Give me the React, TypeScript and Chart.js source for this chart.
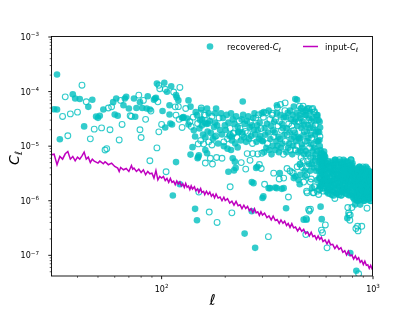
import React, { useEffect, useRef } from "react";
import { Chart, registerables } from "chart.js";

Chart.register(...registerables);

// ---------------- data ----------------
// recovered C_ell: positive values drawn filled, negative values drawn open (|C_ell|)
const lowEll = [31,32,32,33,34,35,36,37,38,39,40,41,42,43,44,45,46,47,48,49,50,51,52,53,54,55,56,57,58,59,60,61,62,63,64,65,66,67,68,70,71,72,74,75,76,78,79,79,80,81,82,84,85,86,88,88,89,92,93,94,95,95,96,97,98];
const lowCl = [4.75e-5,4.7e-5,2.05e-4,1.34e-5,-3.5e-5,-8.0e-5,-1.55e-5,-3.9e-5,8.9e-5,7.45e-5,-4.2e-5,7.3e-5,-1.31e-4,2.3e-5,-6.5e-5,5.25e-5,-1.36e-5,7.1e-5,-2.05e-5,3.5e-5,3.3e-5,3.6e-5,-2.16e-5,4.7e-5,-8.5e-6,-9.0e-6,-5.0e-5,-2.0e-5,-5.25e-5,6.4e-5,3.8e-5,7.45e-5,3.6e-5,-1.3e-5,-6.9e-5,-2.5e-5,5.6e-5,7.45e-5,8.0e-5,4.9e-5,-3.6e-5,-3.5e-5,7.45e-5,3.45e-5,5.0e-5,-8.6e-5,-2.0e-5,6.4e-5,-1.44e-5,5.0e-5,-6.9e-5,-3.1e-5,4.9e-5,8.2e-5,4.7e-5,-5.4e-6,-4.4e-5,7.1e-5,7.45e-5,7.7e-5,1.40e-4,-9.3e-6,-6.5e-5,-1.83e-5,-1.13e-4];

const midEll = [100,101,103,104,104,105,106,109,109,110,111,112,113,114,116,117,117,117,118,120,120,121,122,122,125,125,126,127,130,132,134,134,136,137,137,138,140,141,142,144,144,145,147,147,148,148,149,149,150,150,152,154,154,155,158,160,161,161,164,164,166,167,173,179,179,181];
const midCl = [-2.5e-5,4.4e-5,1.45e-4,2.2e-5,-1.1e-4,-3.4e-6,9.9e-5,5.6e-5,3.8e-5,2.6e-5,1.25e-4,2.5e-5,1.25e-6,-9.8e-5,-5.25e-5,8.6e-5,5.1e-6,-3.7e-5,7.8e-5,6.9e-5,-5.3e-5,-3.1e-5,-1.19e-4,2.0e-6,-2.2e-5,3.3e-5,3.3e-5,3.4e-5,-4.9e-5,3.2e-5,6.9e-5,2.5e-5,-2.8e-5,7.0e-6,5.3e-5,-2.3e-5,9.6e-6,-3.4e-5,1.95e-5,1.5e-5,7.1e-7,4.2e-5,3.7e-5,4.4e-7,-2.6e-5,6.0e-6,-1.1e-5,6.3e-6,6.8e-6,-1.44e-6,3.0e-5,4.7e-5,-5.0e-5,2.4e-5,-1.1e-5,2.7e-5,-3.7e-5,8.5e-6,4.9e-5,7.4e-6,2.6e-5,4.0e-5,-1.05e-5,4.0e-5,1.5e-5,4.9e-5];

const bandEll = [151,153,155,157,159,161,163,165,167,169,171,173,175,177,179,181,183,185,187,189,191,
193,195,197,199,201,203,205,207,209,211,213,215,217,219,221,223,225,227,229,231,233,
235,237,239,241,243,245,247,249,251,253,255,257,259,261,263,265,267,269,271,273,275,
277,279,281,283,285,287,289,291,293,295,297,299,
301,303,305,307,309,311,313,315,317,319,321,323,325,327,329,331,333,335,337,339,341,
343,345,347,349,351,353,355,357,359,361,363,365,367,369,371,373,375,377,379,381,383,
385,387,389,391,393,395,397,399,401,403,405,407,409,411,413,415,417,419,421,423,425,
427,429,431,433,435,437,439,441,443,445,447,449,
450,451,453,454,456,457,459,460,462,463,465,466,468,469,471,472,474,475,477,478,480,
481,483,484,486,487,489,490,492,493,495,496,498,499,501,502,504,505,507,508,510,511,
513,514,516,517,519,520,522,523,525,526,528,529,531,532,534,535,537,538,540,541,543,
544,546,547,549,550,552,553,556,558,559,560,561,562,564];
const bandCl = [2.11e-5,-1.27e-5,3.09e-5,1.64e-5,-3.74e-5,1.45e-5,2.56e-5,1.86e-5,-1.20e-5,2.90e-5,1.75e-5,-3.51e-5,1.36e-5,2.25e-5,2.72e-5,-1.54e-5,2.40e-5,1.12e-5,-3.29e-5,1.98e-5,3.98e-5,
1.64e-5,3.29e-5,-1.20e-5,2.40e-5,1.98e-5,3.74e-5,-1.36e-5,2.72e-5,1.54e-5,-2.11e-5,3.98e-5,1.27e-5,3.09e-5,-1.75e-5,2.56e-5,1.12e-5,3.51e-5,-1.45e-5,2.25e-5,1.86e-5,-2.90e-5,
-2.11e-5,1.27e-5,3.09e-5,-1.64e-5,3.74e-5,1.45e-5,2.56e-5,-1.86e-5,1.20e-5,2.90e-5,-1.75e-5,3.51e-5,1.36e-5,2.25e-5,-2.72e-5,1.54e-5,2.40e-5,-1.12e-5,3.29e-5,1.98e-5,3.98e-5,
1.64e-5,-3.29e-5,1.20e-5,2.40e-5,1.98e-5,-3.74e-5,1.36e-5,2.72e-5,1.54e-5,-2.11e-5,3.98e-5,1.27e-5,
1.23e-5,-3.39e-5,7.76e-6,2.14e-5,1.62e-5,-4.07e-5,9.33e-6,2.57e-5,-1.12e-5,1.78e-5,4.47e-5,8.51e-6,-3.09e-5,1.35e-5,2.34e-5,7.08e-6,-3.72e-5,1.02e-5,1.95e-5,-1.48e-5,2.82e-5,
1.78e-5,8.51e-6,-3.09e-5,1.23e-5,4.07e-5,1.02e-5,-2.34e-5,1.48e-5,7.76e-6,-2.82e-5,1.35e-5,3.72e-5,9.33e-6,-1.95e-5,2.57e-5,1.12e-5,2.14e-5,-7.08e-6,3.39e-5,1.62e-5,-4.47e-5,
-1.23e-5,3.39e-5,7.76e-6,2.14e-5,-1.62e-5,4.07e-5,9.33e-6,-2.57e-5,1.12e-5,1.78e-5,4.47e-5,-8.51e-6,3.09e-5,1.35e-5,-2.34e-5,7.08e-6,3.72e-5,1.02e-5,-1.95e-5,1.48e-5,2.82e-5,
1.78e-5,-8.51e-6,3.09e-5,1.23e-5,4.07e-5,-1.02e-5,2.34e-5,1.48e-5,7.76e-6,-2.82e-5,1.35e-5,3.72e-5,
1.41e-5,-4.68e-6,3.24e-5,8.13e-6,4.9e-5,-6.17e-6,2.14e-5,1.07e-5,-4.07e-6,2.82e-5,9.33e-6,4.27e-5,-5.37e-6,1.62e-5,2.45e-5,7.08e-6,-1.86e-5,3.55e-6,3.72e-5,-1.23e-5,4.5e-5,
8.13e-6,3.72e-5,-4.07e-6,1.86e-5,1.23e-5,4.9e-5,-5.37e-6,2.45e-5,7.08e-6,1.41e-5,-3.0e-5,4.68e-6,3.24e-5,-9.33e-6,2.14e-5,3.55e-6,4.27e-5,-6.17e-6,1.62e-5,1.07e-5,-2.82e-5,
-1.41e-5,4.68e-6,3.24e-5,8.13e-6,-4.9e-5,6.17e-6,2.14e-5,-1.07e-5,4.07e-6,2.82e-5,9.33e-6,-4.27e-5,5.37e-6,1.62e-5,-2.45e-5,7.08e-6,1.86e-5,3.55e-6,-3.72e-5,1.23e-5,3.5e-5,
8.13e-6,3.72e-5,-4.07e-6,1.86e-5,1.23e-5,3.0e-5,5.37e-6,1.8e-5,1.3e-5,2.8e-5,1.0e-5,-1.5e-5,2.2e-5,8.5e-6];

const blobEll = [556,559,562,565,568,571,574,577,580,583,586,589,592,595,598,
557,560,563,566,569,572,575,578,581,584,587,590,593,596,599,
601,604,607,610,613,616,619,622,625,628,631,634,637,640,643,646,649,652,655,658,661,
664,667,670,673,676,679,682,685,688,691,694,697,700,703,706,709,712,715,718,721,724,
727,730,733,736,739,742,745,748,751,754,757,760,763,766,769,772,775,778,781,784,787,
790,793,796,799,
802,805,808,811,814,817,820,823,826,829,832,835,838,841,844,847,850,853,856,859,862,
865,868,871,874,877,880,883,886,889,892,895,898,901,904,907,910,913,916,919,922,925,
928,931,934,937,940,943,946,949,952,955,958,961,964,967,970,973,976,979,982,985,988,991,994,997,1000];
const blobCl = [3.55e-6,1.86e-6,5.75e-6,-2.57e-6,7.33e-6,2.19e-6,4.52e-6,3.02e-6,-1.72e-6,5.31e-6,2.79e-6,6.76e-6,2.02e-6,-3.85e-6,4.9e-6,
2.57e-6,6.24e-6,1.72e-6,4.17e-6,3.27e-6,-7.33e-6,2.02e-6,4.9e-6,2.37e-6,3.55e-6,7.94e-6,-1.86e-6,5.75e-6,2.79e-6,4.52e-6,
2.66e-6,1.46e-6,4.17e-6,1.97e-6,-5.22e-6,1.70e-6,3.33e-6,2.29e-6,-1.36e-6,3.87e-6,2.13e-6,4.84e-6,1.58e-6,-2.87e-6,3.59e-6,1.83e-6,3.09e-6,-1.26e-6,4.49e-6,2.47e-6,5.62e-6,
1.97e-6,-4.49e-6,1.36e-6,3.09e-6,2.47e-6,5.22e-6,-1.58e-6,3.59e-6,1.83e-6,2.66e-6,-5.62e-6,1.46e-6,4.17e-6,2.13e-6,3.33e-6,-1.26e-6,4.84e-6,1.70e-6,2.87e-6,2.29e-6,-3.87e-6,
2.66e-6,1.46e-6,4.17e-6,-1.97e-6,5.22e-6,1.70e-6,3.33e-6,2.29e-6,-1.36e-6,3.87e-6,2.13e-6,-4.84e-6,1.58e-6,2.87e-6,3.59e-6,-1.83e-6,3.09e-6,1.26e-6,4.49e-6,2.47e-6,-5.62e-6,
1.97e-6,4.49e-6,-1.36e-6,3.09e-6,
2.04e-6,1.15e-6,3.13e-6,-1.53e-6,3.88e-6,1.33e-6,2.53e-6,-1.77e-6,1.07e-6,2.92e-6,1.65e-6,-3.61e-6,1.24e-6,2.19e-6,2.72e-6,-1.43e-6,2.36e-6,1.0e-6,3.37e-6,-1.90e-6,4.17e-6,
1.53e-6,3.37e-6,-1.07e-6,2.36e-6,1.90e-6,3.88e-6,-1.24e-6,2.72e-6,1.43e-6,2.04e-6,-4.17e-6,1.15e-6,3.13e-6,1.65e-6,-2.53e-6,1.0e-6,3.61e-6,1.33e-6,-2.19e-6,1.77e-6,2.92e-6,
2.04e-6,-1.15e-6,3.13e-6,1.53e-6,3.88e-6,-1.33e-6,2.53e-6,1.77e-6,1.07e-6,-2.92e-6,1.65e-6,3.3e-6,1.24e-6,-2.19e-6,2.72e-6,1.43e-6,2.36e-6,-1.0e-6,3.1e-6,1.90e-6,3.0e-6,-1.53e-6,2.72e-6,1.15e-6,2.04e-6];

// extra filled points inside the dense high-ell blob
const blob2Ell = [558,561,564,567,570,573,576,579,582,585,588,591,594,597,
602,605,608,611,614,617,620,623,626,629,632,635,638,641,644,647,650,653,656,659,662,
665,668,671,674,677,680,683,686,689,692,695,698,701,704,707,710,713,716,719,722,725,
728,731,734,737,740,743,746,749,752,755,758,761,764,767,770,773,776,779,782,785,788,
791,794,797,800,
803,806,809,812,815,818,821,824,827,830,833,836,839,842,845,848,851,854,857,860,863,
866,869,872,875,878,881,884,887,890,893,896,899,902,905,908,911,914,917,920,923,926,
929,932,935,938,941,944,947,950,953,956,959,962,965,968,971,974,977,980,983,986,989,
992,995,998];
const blob2Cl = [4.5e-6,2.9e-6,6.8e-6,1.9e-6,5.2e-6,3.4e-6,6.0e-6,2.3e-6,4.2e-6,7.0e-6,1.8e-6,3.8e-6,6.3e-6,2.4e-6,
3.59e-6,1.70e-6,2.47e-6,4.84e-6,1.36e-6,3.09e-6,2.13e-6,4.17e-6,1.58e-6,2.66e-6,5.22e-6,1.83e-6,3.33e-6,1.26e-6,2.29e-6,4.49e-6,1.46e-6,2.87e-6,3.87e-6,1.97e-6,5.62e-6,
3.59e-6,1.70e-6,2.47e-6,4.84e-6,1.36e-6,3.09e-6,2.13e-6,4.17e-6,1.58e-6,2.66e-6,5.22e-6,1.83e-6,3.33e-6,1.26e-6,2.29e-6,4.49e-6,1.46e-6,2.87e-6,3.87e-6,1.97e-6,5.62e-6,
3.59e-6,1.70e-6,2.47e-6,4.84e-6,1.36e-6,3.09e-6,2.13e-6,4.17e-6,1.58e-6,2.66e-6,5.22e-6,1.83e-6,3.33e-6,1.26e-6,2.29e-6,4.49e-6,1.46e-6,2.87e-6,3.87e-6,1.97e-6,5.62e-6,
3.59e-6,1.70e-6,2.47e-6,4.84e-6,
2.72e-6,1.33e-6,1.90e-6,3.61e-6,1.07e-6,2.36e-6,1.65e-6,3.13e-6,1.24e-6,2.04e-6,3.88e-6,1.43e-6,2.53e-6,1.0e-6,1.77e-6,3.37e-6,1.15e-6,2.19e-6,2.92e-6,1.53e-6,4.17e-6,
2.72e-6,1.33e-6,1.90e-6,3.61e-6,1.07e-6,2.36e-6,1.65e-6,3.13e-6,1.24e-6,2.04e-6,3.88e-6,1.43e-6,2.53e-6,1.0e-6,1.77e-6,3.37e-6,1.15e-6,2.19e-6,2.92e-6,1.53e-6,4.17e-6,
2.72e-6,1.33e-6,1.90e-6,3.5e-6,1.07e-6,2.36e-6,1.65e-6,3.13e-6,1.24e-6,2.04e-6,3.5e-6,1.43e-6,2.53e-6,1.0e-6,1.77e-6,3.3e-6,1.15e-6,2.19e-6,2.92e-6,1.53e-6,3.3e-6,
2.72e-6,1.33e-6,1.90e-6];

const sparseEll = [97,161,174,170,182,193,217,222,224,207,220,238,250,262,280,284,290,296,211,168,183,215,267,272,267,247,277,300,307,320,326,350,378,339,360,378,362,388,398,414,438,422,450,453,478,470,505,470,485,483,500,481,572,570,577,595,606,565,553,506,688,770,780,756,777,830,850,781,834,855,760,795,822,870,885,937,211,219,240,231,215,254,270,285,298,197,205,213,229,242,304,335,351,353,365,384,422,429,437,449,460,467,497,515,525,486,496,510,530,545,560,660,767,845,303,321,345,370,485,520,580,453,429,444,515,543,488,525,555,582,392,405,420];
const sparseCl = [-1.3e-4,-4.9e-6,-4.7e-6,-6e-6,-6.2e-6,-6e-6,6e-6,5.2e-6,4e-6,3.4e-6,3.6e-6,-5e-6,-3.8e-6,-5.5e-6,4e-6,4.2e-6,-4.6e-6,-3.9e-6,-1.8e-6,-6.2e-7,-4.0e-7,-6.0e-7,2.2e-6,2.1e-6,6.4e-7,2.5e-7,1.37e-7,1.12e-6,-2.0e-6,-2.2e-7,1.7e-6,1.7e-6,1.7e-6,-3.2e-6,-2.5e-6,-2.6e-6,3.2e-6,7.3e-7,-1.17e-6,-3.3e-6,-4.2e-6,2.6e-6,2.0e-6,3.0e-6,2.8e-6,-2.2e-6,-2.2e-6,4.5e-7,4.5e-7,-4.7e-7,-6.5e-7,-2.4e-7,4.6e-7,-2.9e-7,-2.6e-7,-3.6e-7,-1.37e-7,7.8e-7,-1.3e-6,-7e-7,-1.3e-6,-5.5e-7,-5.5e-7,4.8e-7,-4.4e-7,-3.1e-7,-2.8e-7,1.1e-7,5.2e-8,-4.6e-8,-7.5e-7,-7.5e-7,8.5e-7,8.5e-7,-3.4e-7,-7.3e-7,-1.6e-5,-1.7e-5,1.8e-5,1.8e-5,1.5e-5,-7.3e-6,-7.3e-6,-7.2e-6,-7.4e-6,1.0e-5,9e-6,8.5e-6,9.5e-6,6.6e-5,4.2e-5,-4.0e-5,5.6e-5,-5.1e-5,-5.8e-5,-6.2e-5,5.3e-5,7.3e-5,7.1e-5,-5.4e-5,-4.9e-5,-5.4e-5,-4.9e-5,-4.7e-5,-4.2e-5,-3.0e-6,-6.9e-7,-2.5e-6,-1.8e-6,-1.5e-6,-1.6e-6,-1.1e-6,-6e-7,-3.4e-7,1.2e-6,1.7e-6,1.75e-6,1.65e-6,-1.5e-6,-1.4e-6,-1.5e-6,4.6e-6,2.8e-6,2.4e-6,1.7e-6,2.4e-6,-1.4e-6,-1.4e-6,-1.6e-6,-1.7e-6,-3.9e-6,-3.5e-6,-3.2e-6];

// input C_ell
const inputEll = [30,31,32,33,34,35,36,37,38,39,40,41,42,43,44,45,46,47,48,49,50,51,52,53,54,55,56,58,60,62,63,64,66,68,70,72,73,74,76,78,80,82,84,86,88,90,92,94,96,98,100,
102,104,106,108,110,112,114,116,118,120,122,124,126,128,130,132,134,136,138,140,143,145,148,150,153,155,158,160,163,166,169,172,175,178,181,185,189,193,197,200,
205,210,215,220,225,230,235,240,245,250,255,260,265,270,275,280,285,290,295,300,307,315,322,330,337,345,352,360,367,375,382,390,397,405,413,421,430,440,450,460,470,480,490,500,510,520,530,540,550,560,570,580,593,606,618,630,645,660,675,690,705,720,735,750,765,780,795,810,825,840,855,870,885,900,915,930,945,960,975,990,1000];
const inputCl = [6.94e-6,7.14e-6,4.56e-6,6.47e-6,5.78e-6,7.24e-6,7.99e-6,5.78e-6,6.47e-6,5.39e-6,6.29e-6,5.78e-6,6.65e-6,7.77e-6,5.78e-6,6.29e-6,5.03e-6,5.78e-6,5.32e-6,5.10e-6,4.89e-6,5.32e-6,5.03e-6,4.75e-6,5.17e-6,4.89e-6,4.56e-6,4.89e-6,4.25e-6,3.96e-6,3.44e-6,4.07e-6,3.69e-6,3.90e-6,3.44e-6,4.43e-6,3.79e-6,3.96e-6,3.44e-6,3.79e-6,3.30e-6,3.69e-6,2.99e-6,3.44e-6,3.12e-6,3.21e-6,2.60e-6,3.59e-6,2.42e-6,2.79e-6,2.60e-6,
2.79e-6,2.34e-6,2.56e-6,2.18e-6,2.57e-6,2.18e-6,2.28e-6,1.97e-6,2.29e-6,2.02e-6,2.21e-6,1.87e-6,2.05e-6,1.76e-6,2.08e-6,1.77e-6,1.86e-6,1.60e-6,1.87e-6,1.64e-6,1.80e-6,1.53e-6,1.65e-6,1.42e-6,1.67e-6,1.42e-6,1.48e-6,1.29e-6,1.49e-6,1.31e-6,1.44e-6,1.21e-6,1.32e-6,1.13e-6,1.33e-6,1.12e-6,1.17e-6,1.00e-6,1.16e-6,1.01e-6,
1.09e-6,9.09e-7,9.82e-7,8.29e-7,9.69e-7,8.09e-7,8.42e-7,7.19e-7,8.29e-7,7.21e-7,7.87e-7,6.58e-7,7.16e-7,6.09e-7,7.16e-7,6.01e-7,6.28e-7,5.40e-7,6.26e-7,5.47e-7,5.93e-7,4.91e-7,5.29e-7,4.47e-7,5.23e-7,4.35e-7,4.53e-7,3.86e-7,4.45e-7,3.86e-7,4.22e-7,3.52e-7,3.83e-7,3.25e-7,3.81e-7,3.19e-7,3.30e-7,2.80e-7,3.20e-7,2.76e-7,2.99e-7,2.48e-7,2.68e-7,2.27e-7,2.64e-7,2.20e-7,2.30e-7,1.96e-7,2.26e-7,1.96e-7,2.14e-7,1.79e-7,1.92e-7,1.62e-7,1.88e-7,1.56e-7,1.59e-7,1.33e-7,1.51e-7,1.29e-7,1.38e-7,1.14e-7,1.22e-7,1.02e-7,1.19e-7,9.8e-8,1.01e-7,8.55e-8,9.74e-8,8.37e-8,9.07e-8,7.44e-8,8.01e-8,6.75e-8,7.81e-8,6.55e-8,6.73e-8,5.76e-8,6.53e-8,5.66e-8,5.8e-8];

// axes
const xMin = 30.3, xMax = 1000;
const yMin = 4.18e-8, yMax = 1e-3;
const xMajorTicks = [100, 1000];
const xTickExps = ["2", "3"];
const yMajorTicks = [1e-3, 1e-4, 1e-5, 1e-6, 1e-7];
const yTickExps = ["\u22123", "\u22124", "\u22125", "\u22126", "\u22127"];
const legendLabels = ["recovered-", "input-"];

// ---------------- styling ----------------
const CYAN = "rgba(0,191,191,0.8)";
const MAGENTA = "#bf00bf";
const FONT = '"DejaVu Sans", sans-serif';
const TICK_PX = 8;
const SUP_PX = 5.6;
const LEG_PX = 8.5;

function drawPow(ctx: CanvasRenderingContext2D, exp: string, x: number, yBase: number, align: "right" | "center") {
  ctx.font = `${TICK_PX}px ${FONT}`;
  const w1 = ctx.measureText("10").width;
  ctx.font = `${SUP_PX}px ${FONT}`;
  const w2 = ctx.measureText(exp).width;
  const total = w1 + w2;
  const sx = align === "right" ? x - total : x - total / 2;
  ctx.textAlign = "left";
  ctx.textBaseline = "alphabetic";
  ctx.font = `${TICK_PX}px ${FONT}`;
  ctx.fillText("10", sx, yBase);
  ctx.font = `${SUP_PX}px ${FONT}`;
  ctx.fillText(exp, sx + w1, yBase - 3.6);
}

function drawCEll(ctx: CanvasRenderingContext2D, x: number, yBase: number, size: number, prefix: string) {
  ctx.textAlign = "left";
  ctx.textBaseline = "alphabetic";
  let cx = x;
  if (prefix) {
    ctx.font = `${size}px ${FONT}`;
    ctx.fillText(prefix, cx, yBase);
    cx += ctx.measureText(prefix).width;
  }
  ctx.font = `italic ${size}px ${FONT}`;
  ctx.fillText("C", cx, yBase);
  cx += ctx.measureText("C").width;
  ctx.font = `italic ${size * 0.7}px ${FONT}`;
  ctx.fillText("\u2113", cx, yBase + size * 0.2);
}

const mplAxes = {
  id: "mplAxes",
  afterDraw(chart: any) {
    const { ctx, chartArea: a, scales } = chart;
    const xs = scales.x, ys = scales.y;
    ctx.save();
    ctx.fillStyle = "#000";
    ctx.strokeStyle = "#000";
    ctx.lineWidth = 0.9;
    ctx.strokeRect(a.left - 0.5, a.top - 0.5, a.right - a.left, a.bottom - a.top + 0.5);
    for (let e = -8; e <= -3; e++) {
      for (let k = 1; k <= 9; k++) {
        const v = k * Math.pow(10, e);
        if (v < yMin * 0.999 || v > yMax * 1.001) continue;
        const py = ys.getPixelForValue(v);
        const len = k === 1 ? 3.2 : 1.8;
        ctx.lineWidth = k === 1 ? 0.9 : 0.6;
        ctx.beginPath();
        ctx.moveTo(a.left - 0.5, py);
        ctx.lineTo(a.left - 0.5 - len, py);
        ctx.stroke();
      }
    }
    for (let e = 1; e <= 3; e++) {
      for (let k = 1; k <= 9; k++) {
        const v = k * Math.pow(10, e);
        if (v < xMin * 0.999 || v > xMax * 1.001) continue;
        const px = xs.getPixelForValue(v);
        const len = k === 1 ? 3.2 : 1.8;
        ctx.lineWidth = k === 1 ? 0.9 : 0.6;
        ctx.beginPath();
        ctx.moveTo(px, a.bottom);
        ctx.lineTo(px, a.bottom + len);
        ctx.stroke();
      }
    }
    yMajorTicks.forEach((v, i) => {
      const py = ys.getPixelForValue(v);
      drawPow(ctx, yTickExps[i], 39, py + 3, "right");
    });
    xMajorTicks.forEach((v, i) => {
      const px = xs.getPixelForValue(v);
      drawPow(ctx, xTickExps[i], px, 292, "center");
    });
    ctx.save();
    ctx.translate(19, 165);
    ctx.rotate(-Math.PI / 2);
    drawCEll(ctx, 0, 0, 14, "");
    ctx.restore();
    ctx.font = `italic 15px ${FONT}`;
    ctx.textAlign = "center";
    ctx.textBaseline = "alphabetic";
    ctx.fillText("\u2113", (a.left + a.right) / 2, 305);
    // legend
    ctx.fillStyle = CYAN;
    ctx.beginPath();
    ctx.arc(210, 46.5, 3.3, 0, Math.PI * 2);
    ctx.fill();
    ctx.fillStyle = "#000";
    drawCEll(ctx, 227, 50, LEG_PX, legendLabels[0]);
    ctx.strokeStyle = MAGENTA;
    ctx.lineWidth = 1.5;
    ctx.beginPath();
    ctx.moveTo(303, 46.5);
    ctx.lineTo(318, 46.5);
    ctx.stroke();
    drawCEll(ctx, 325, 50, LEG_PX, legendLabels[1]);
    ctx.restore();
  },
};

function buildPoints() {
  const ell = [...lowEll, ...midEll, ...bandEll, ...blobEll, ...blob2Ell, ...sparseEll];
  const cl = [...lowCl, ...midCl, ...bandCl, ...blobCl, ...blob2Cl, ...sparseCl];
  const filled: { x: number; y: number }[] = [];
  const open: { x: number; y: number }[] = [];
  ell.forEach((l, i) => {
    const c = cl[i];
    if (c === undefined) return;
    if (c > 0) filled.push({ x: l, y: c });
    else open.push({ x: l, y: -c });
  });
  const line = inputEll.map((l, i) => ({ x: l, y: inputCl[i] }));
  return { filled, open, line };
}

export default function App() {
  const ref = useRef<HTMLCanvasElement | null>(null);
  useEffect(() => {
    if (!ref.current) return;
    const { filled, open, line } = buildPoints();
    const chart = new Chart(ref.current, {
      type: "scatter",
      data: {
        datasets: [
          {
            type: "line",
            label: "input",
            data: line,
            borderColor: MAGENTA,
            borderWidth: 1.5,
            pointRadius: 0,
            fill: false,
            tension: 0,
            order: 0,
          } as any,
          {
            label: "recovered",
            data: filled,
            pointBackgroundColor: CYAN,
            pointBorderWidth: 0,
            pointBorderColor: "rgba(0,0,0,0)",
            pointRadius: 3.3,
            order: 1,
            clip: 0,
          } as any,
          {
            label: "recovered-neg",
            data: open,
            pointBackgroundColor: "rgba(0,0,0,0)",
            pointBorderColor: CYAN,
            pointBorderWidth: 1.1,
            pointRadius: 2.9,
            order: 2,
            clip: 0,
          } as any,
        ],
      },
      options: {
        animation: false,
        responsive: false,
        devicePixelRatio: 1,
        events: [],
        layout: { padding: { left: 0, right: 42, top: 37, bottom: 0 } },
        plugins: { legend: { display: false }, tooltip: { enabled: false } },
        scales: {
          x: {
            type: "logarithmic",
            min: xMin,
            max: xMax,
            grid: { display: false },
            border: { display: false },
            ticks: { display: false },
            afterFit: (s: any) => { s.height = 35; },
          },
          y: {
            type: "logarithmic",
            min: yMin,
            max: yMax,
            grid: { display: false },
            border: { display: false },
            ticks: { display: false },
            afterFit: (s: any) => { s.width = 52; },
          },
        },
      } as any,
      plugins: [mplAxes],
    });
    return () => chart.destroy();
  }, []);
  return (
    <div style={{ position: "fixed", left: 0, top: 0, width: 415, height: 311, background: "#fff" }}>
      <canvas ref={ref} width={415} height={311} style={{ display: "block" }} />
    </div>
  );
}
